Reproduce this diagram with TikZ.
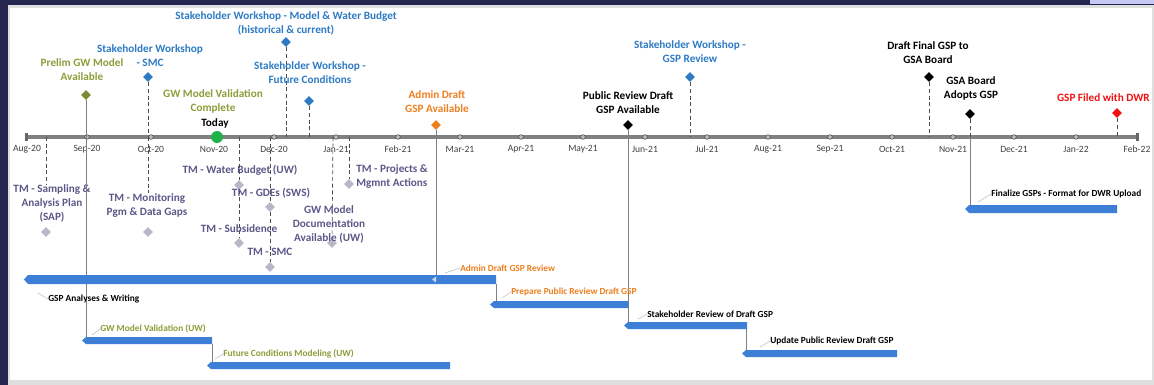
\documentclass[tikz,border=0pt]{standalone}
\usepackage{fontspec}
\setmainfont{Carlito}
\usetikzlibrary{shapes.geometric}

\definecolor{navy}{HTML}{25264F}
\definecolor{lavender}{HTML}{C5C8F2}
\definecolor{wsblue}{HTML}{2E7BC4}
\definecolor{olive}{HTML}{8E9C3A}
\definecolor{oliveDk}{HTML}{7B8B32}
\definecolor{orng}{HTML}{EE7F1E}
\definecolor{filedred}{HTML}{F01212}
\definecolor{tmtext}{HTML}{5A5888}
\definecolor{tmgray}{HTML}{B7B7C8}
\definecolor{barblue}{HTML}{3D7FD6}
\definecolor{todaygreen}{HTML}{1FB24A}
\definecolor{axisgray}{HTML}{808080}

\tikzset{
  ms/.style={diamond, fill=#1, inner sep=0pt, minimum size=7.5pt},
  tmk/.style={diamond, fill=tmgray, inner sep=0pt, minimum size=7.5pt},
  toplbl/.style={font=\bfseries\fontsize{8.4}{10.5}\selectfont, align=center, inner sep=0pt},
  tmlbl/.style={toplbl, text=tmtext},
  glbl/.style={font=\bfseries\fontsize{7}{8}\selectfont, anchor=west, inner sep=0pt},
  mlbl/.style={font=\fontsize{7.2}{8}\selectfont, text=black!75, inner sep=0pt},
  tick/.style={circle, fill=gray!55, draw=gray!35!black, line width=0.3pt, inner sep=0pt, minimum size=3.5pt},
  dsh/.style={draw=black!70, densely dashed, line width=0.5pt},
  link/.style={draw=axisgray, line width=0.6pt},
  leader/.style={draw=gray!45, line width=0.5pt},
}

% Gantt bar with a small pointed left end: x0, x1, ytop, ybottom
\newcommand\ganttbar[4]{%
  \fill[barblue] (#1-4,{(#3+#4)/2}) -- (#1,#3) -- (#2,#3) -- (#2,#4) -- (#1,#4) -- cycle;}

\begin{document}
\begin{tikzpicture}[x=0.75pt,y=-0.75pt]
\useasboundingbox (0,0) rectangle (1154,385);

% frame and white panel
\fill[navy] (0,0) rectangle (1154,385);
\fill[lavender] (1090,0) rectangle (1154,4);
\fill[gray!25] (8,5) rectangle (1154,385);
\fill[white] (10,8) rectangle (1152,380);

% ---------------- time axis ----------------
\coordinate (axL) at (27,137);
\coordinate (axR) at (1137,137);
\draw[axisgray, line width=3pt] (axL) -- (axR);
\fill[axisgray!80!black] (25,133) rectangle (28,141);
\fill[axisgray!80!black] (1136,133) rectangle (1139,141);
\foreach \m/\x [count=\i from 0] in {Aug-20/27,Sep-20/87,Oct-20/151,Nov-20/214,Dec-20/274,Jan-21/336,Feb-21/398,Mar-21/460,Apr-21/521,May-21/583,Jun-21/645,Jul-21/707,Aug-21/768,Sep-21/830,Oct-21/892,Nov-21/953,Dec-21/1014,Jan-22/1076,Feb-22/1137}{
  \ifnum\i>0\ifnum\i<18 \node[tick] (tk\i) at (\x,137) {};\fi\fi
  \node[mlbl] (ml\i) at (\x,149) {\m};
}

% ---------------- milestones above the axis ----------------
\node[toplbl, text=olive] (tPrelim) at (82,70) {Prelim GW Model\\Available};
\node[ms=oliveDk] (dPrelim) at (86,95) {};
\coordinate (aPrelim) at (86,137);
\draw[dsh] (dPrelim) -- (aPrelim);

\node[toplbl, text=wsblue] (tSMC) at (150,55.5) {Stakeholder Workshop\\- SMC};
\node[ms=wsblue] (dSMC) at (148,77) {};
\coordinate (aSMC) at (148,137);
\draw[dsh] (dSMC) -- (aSMC);

\node[toplbl, text=olive] (tValid) at (213,101.5) {GW Model Validation\\Complete};
\node[toplbl] (tToday) at (215,123) {Today};
\node[circle, fill=todaygreen, inner sep=0pt, minimum size=9pt] (dToday) at (217,137) {};

\node[toplbl, text=wsblue] (tMWB) at (286,23.5) {Stakeholder Workshop - Model \& Water Budget\\(historical \& current)};
\node[ms=wsblue] (dMWB) at (286,42) {};
\coordinate (aMWB) at (286,137);
\draw[dsh] (dMWB) -- (aMWB);

\node[toplbl, text=wsblue] (tFut) at (310,73) {Stakeholder Workshop -\\Future Conditions};
\node[ms=wsblue] (dFut) at (309,101) {};
\coordinate (aFut) at (309,137);
\draw[dsh] (dFut) -- (aFut);

\node[toplbl, text=orng] (tAdmin) at (437,102) {Admin Draft\\GSP Available};
\node[ms=orng] (dAdmin) at (436,125) {};

\node[toplbl] (tPublic) at (628,103) {Public Review Draft\\GSP Available};
\node[ms=black] (dPublic) at (628,125) {};

\node[toplbl, text=wsblue] (tReview) at (690,52) {Stakeholder Workshop -\\GSP Review};
\node[ms=wsblue] (dReview) at (690,77) {};
\coordinate (aReview) at (690,137);
\draw[dsh] (dReview) -- (aReview);

\node[toplbl] (tFinal) at (928,53) {Draft Final GSP to\\GSA Board};
\node[ms=black] (dFinal) at (929,77) {};
\coordinate (aFinal) at (929,137);
\draw[dsh] (dFinal) -- (aFinal);

\node[toplbl] (tAdopt) at (971,88) {GSA Board\\Adopts GSP};
\node[ms=black] (dAdopt) at (970,114) {};
\coordinate (aAdopt) at (970,137);
\draw[dsh] (dAdopt) -- (aAdopt);

\node[toplbl, text=filedred, anchor=east] (tFiled) at (1150,98) {GSP Filed with DWR};
\node[ms=filedred] (dFiled) at (1117,113) {};
\coordinate (aFiled) at (1117,137);
\draw[dsh] (dFiled) -- (aFiled);

% ---------------- technical memos below the axis ----------------
\coordinate (aSAP) at (46,137);
\node[tmlbl] (tSAP) at (52,203) {TM - Sampling \&\\Analysis Plan\\(SAP)};
\node[tmk] (dSAP) at (46,232) {};
\draw[dsh] (aSAP) -- (tSAP.north -| aSAP);

\node[tmlbl] (tMon) at (147,205.5) {TM - Monitoring\\Pgm \& Data Gaps};
\node[tmk] (dMon) at (148,232) {};
\draw[dsh] (aSMC) -- (tMon.north -| aSMC);

\coordinate (aWB) at (239,137);
\node[tmk] (dWB) at (239,185) {};
\node[tmk] (dSub) at (239,243) {};
\draw[dsh] (aWB) -- (dWB) -- (dSub);
\node[tmlbl] (tWB) at (240,170) {TM - Water Budget (UW)};
\node[tmlbl] (tSub) at (239,229) {TM - Subsidence};

\coordinate (aGDE) at (270,137);
\node[tmk] (dGDE) at (270,207) {};
\node[tmk] (dTSMC) at (270,267) {};
\draw[dsh] (aGDE) -- (dGDE) -- (dTSMC);
\node[tmlbl] (tGDE) at (271,193) {TM - GDEs (SWS)};
\node[tmlbl] (tTSMC) at (270,252) {TM - SMC};

\coordinate (aDoc) at (333,137);
\node[tmk] (dDoc) at (332,243) {};
\draw[dsh] (aDoc) -- (dDoc);
\node[tmlbl] (tDoc) at (329,224) {GW Model\\Documentation\\Available (UW)};

\coordinate (aProj) at (349,137);
\node[tmk] (dProj) at (349,184) {};
\draw[dsh] (aProj) -- (dProj);
\node[tmlbl, anchor=west, align=left] (tProj) at (356,176.5) {TM - Projects \&\\Mgmnt Actions};

% ---------------- Gantt bars ----------------
\coordinate (b1top) at (86,275);
\coordinate (b1adm) at (436,275);
\coordinate (b1end) at (496,284);
\coordinate (b2top) at (496,301);
\coordinate (b3top) at (628,322);
\coordinate (b3end) at (746,329);
\coordinate (b4top) at (746,350);
\coordinate (b5top) at (86,337);
\coordinate (b5end) at (212,344);
\coordinate (b6top) at (212,362);
\coordinate (b7top) at (970,205);

% connectors behind the bars
\draw[link] (dPrelim) -- (b5top);
\draw[link] (dAdmin) -- (b1adm);
\draw[link] (b1end) -- (b2top);
\draw[link] (dPublic) -- (b3top);
\draw[link] (b3end) -- (b4top);
\draw[link] (b5end) -- (b6top);
\draw[link] (aAdopt) -- (b7top);

\ganttbar{28}{436}{275}{284}
\ganttbar{436}{496}{275}{284}
\fill[white!70!barblue] (432,279.5) -- (436,276.5) -- (436,282.5) -- cycle;
\ganttbar{494}{628}{301}{308}
\ganttbar{628}{747}{322}{329}
\ganttbar{746}{897}{350}{357}
\ganttbar{86}{212}{337}{344}
\ganttbar{211}{450}{362}{369}
\ganttbar{969}{1117}{205}{213}

% bar labels with their short leaders
\node[glbl] (gAnal) at (48,299) {GSP Analyses \& Writing};
\draw[leader] (38,293) -- (gAnal.west);
\node[glbl, text=olive] (gValid) at (100,329) {GW Model Validation (UW)};
\draw[leader] (92,335) -- (gValid.west);
\node[glbl, text=olive] (gFut) at (223,354) {Future Conditions Modeling (UW)};
\draw[leader] (215,359) -- (gFut.west);
\node[glbl, text=orng] (gAdmin) at (460,268) {Admin Draft GSP Review};
\draw[leader] (445,273) -- (gAdmin.west);
\node[glbl, text=orng] (gPrep) at (511,292) {Prepare Public Review Draft GSP};
\draw[leader] (502,298) -- (gPrep.west);
\node[glbl] (gStake) at (647,314) {Stakeholder Review of Draft GSP};
\draw[leader] (638,319) -- (gStake.west);
\node[glbl] (gUpd) at (770,341) {Update Public Review Draft GSP};
\draw[leader] (760,347) -- (gUpd.west);
\node[glbl] (gFinz) at (991,194) {Finalize GSPs - Format for DWR Upload};
\draw[leader] (978,202) -- (gFinz.west);

\end{tikzpicture}
\end{document}
